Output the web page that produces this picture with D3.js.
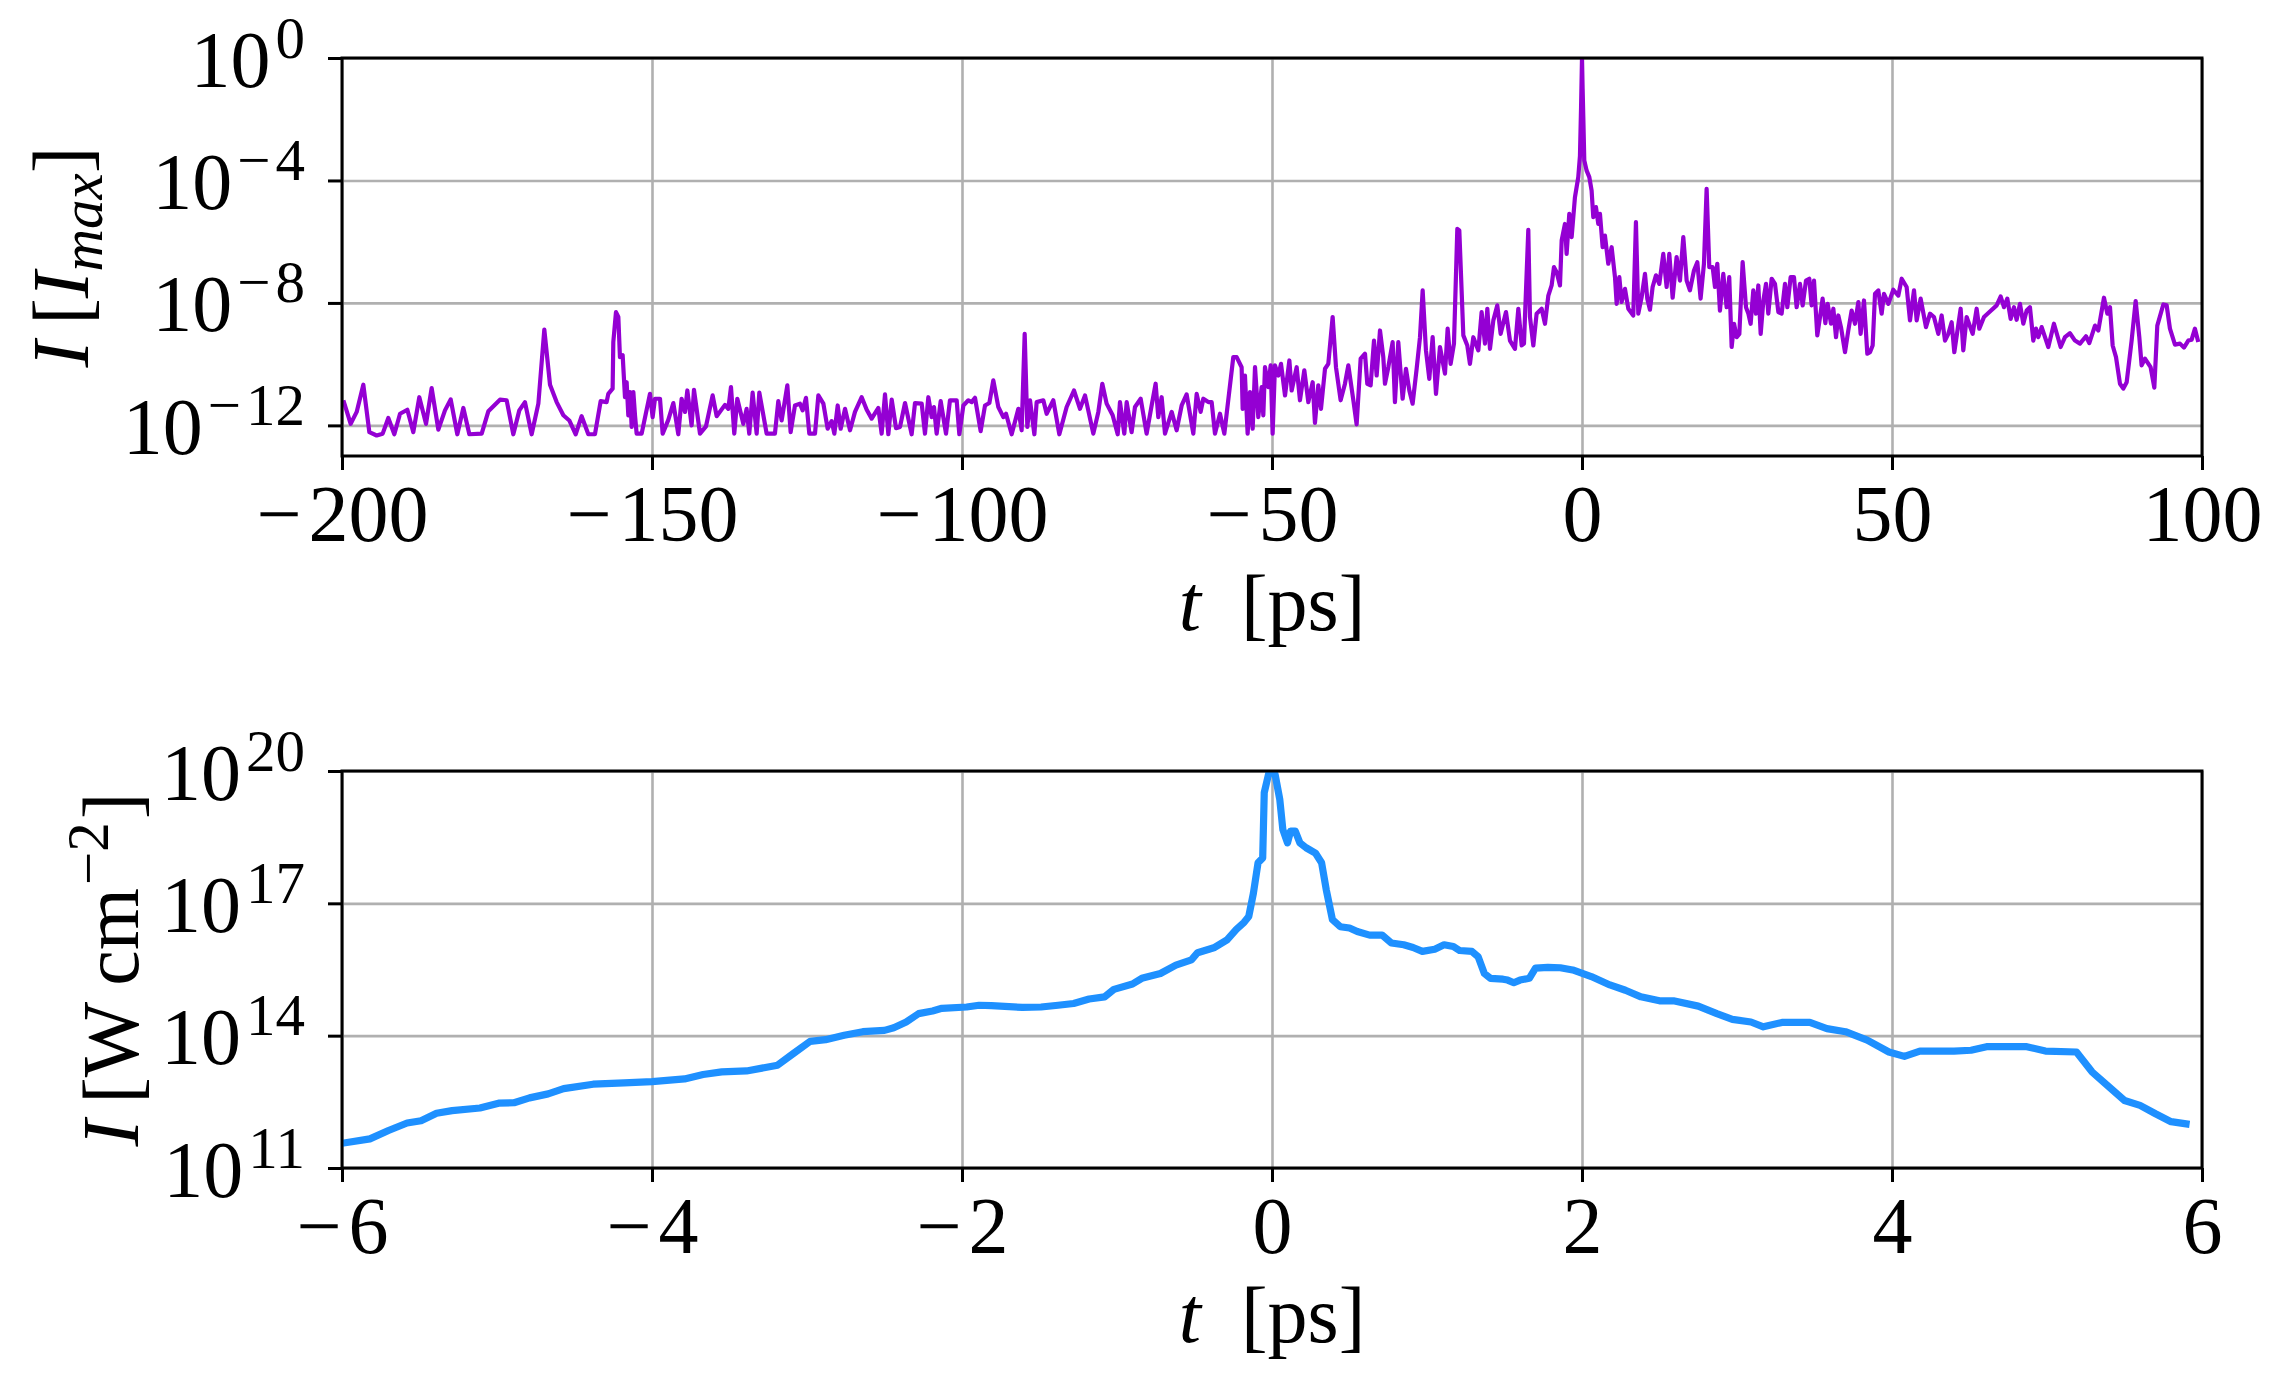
<!DOCTYPE html>
<html>
<head>
<meta charset="utf-8">
<script src="https://cdn.jsdelivr.net/npm/d3@7"></script>
<style>
  body { margin: 0; background: #fff; }
  svg { display: block; }
  text { font-family: "Liberation Serif", "DejaVu Serif", serif; fill: #000; }
</style>
</head>
<body>
<svg></svg>
<script>
const [svgWidth, svgHeight] = [2293, 1393];
const svg = d3.select('svg')
  .attr('width', svgWidth)
  .attr('height', svgHeight);

// ---- data: [t in ps, log10 of intensity] ----
const contrastTicksX = [-200, -150, -100, -50, 0, 50, 100];
const contrastTicksExp = [-12, -8, -4, 0];
const contrastTrace = [
  [-199.78,-11.18],[-198.6,-11.95],[-197.63,-11.56],[-196.56,-10.67],[-195.59,-12.22],[-194.41,-12.33],
  [-193.44,-12.27],[-192.53,-11.76],[-191.56,-12.29],[-190.64,-11.62],[-189.46,-11.49],[-188.5,-12.22],
  [-187.53,-11.08],[-186.45,-11.95],[-185.54,-10.78],[-184.46,-12.14],[-183.39,-11.51],[-182.47,-11.15],
  [-181.4,-12.29],[-180.43,-11.43],[-179.46,-12.29],[-177.47,-12.27],[-176.4,-11.54],[-174.52,-11.16],
  [-173.44,-11.18],[-172.37,-12.29],[-171.4,-11.51],[-170.49,-11.24],[-169.41,-12.29],[-168.33,-11.29],
  [-167.37,-8.87],[-166.45,-10.67],[-165.38,-11.24],[-164.3,-11.67],[-163.34,-11.84],[-162.31,-12.29],
  [-161.35,-11.7],[-160.27,-12.29],[-159.2,-12.29],[-158.28,-11.21],[-157.32,-11.24],[-157.05,-10.97],
  [-156.35,-10.8],[-156.24,-9.28],[-155.81,-8.3],[-155.43,-8.46],[-155.17,-9.77],[-154.73,-9.71],
  [-154.36,-11.08],[-154.09,-10.59],[-153.82,-11.67],[-153.55,-10.91],[-153.28,-12.05],[-153.01,-10.91],
  [-152.74,-11.67],[-152.48,-12.27],[-151.67,-12.27],[-150.33,-10.97],[-149.9,-11.73],[-149.52,-11.13],
  [-148.71,-11.13],[-148.28,-12.27],[-147.37,-11.82],[-146.56,-11.27],[-145.76,-12.29],[-145.22,-11.13],
  [-144.68,-11.56],[-144.3,-10.86],[-143.61,-12.0],[-143.23,-10.84],[-142.26,-12.27],[-141.29,-12.03],
  [-140.22,-11.02],[-139.57,-11.7],[-138.23,-11.33],[-137.69,-11.46],[-137.26,-10.75],[-136.73,-12.27],
  [-136.24,-11.13],[-135.27,-11.95],[-134.74,-11.46],[-134.31,-12.27],[-133.77,-10.93],[-133.12,-12.27],
  [-132.69,-10.93],[-131.51,-12.27],[-130.17,-12.27],[-129.63,-11.21],[-129.09,-11.84],[-128.17,-10.69],
  [-127.64,-12.22],[-126.94,-11.35],[-126.13,-11.29],[-125.7,-11.51],[-125.16,-11.1],[-124.63,-12.27],
  [-123.71,-12.27],[-123.17,-11.02],[-122.36,-11.29],[-121.67,-12.11],[-121.02,-11.86],[-120.59,-12.27],
  [-120.05,-11.35],[-119.57,-12.11],[-118.87,-11.46],[-118.06,-12.16],[-117.26,-11.56],[-116.18,-11.08],
  [-115.37,-11.49],[-114.57,-11.78],[-113.49,-11.43],[-112.96,-12.27],[-112.42,-10.99],[-111.88,-12.29],
  [-111.34,-11.16],[-110.64,-12.09],[-110.0,-12.05],[-109.19,-11.27],[-108.12,-12.29],[-107.58,-11.27],
  [-106.5,-11.29],[-105.97,-12.27],[-105.43,-11.08],[-104.89,-11.73],[-104.52,-11.4],[-104.09,-12.27],
  [-103.44,-11.21],[-102.58,-12.27],[-101.94,-11.18],[-100.86,-11.18],[-100.43,-12.29],[-99.78,-11.35],
  [-98.98,-11.18],[-98.44,-11.24],[-97.9,-11.1],[-96.99,-12.19],[-96.29,-11.35],[-95.59,-11.27],
  [-94.95,-10.53],[-94.14,-11.4],[-93.33,-11.73],[-92.9,-11.62],[-91.99,-12.29],[-90.91,-11.46],
  [-90.38,-12.16],[-89.89,-9.01],[-89.46,-12.05],[-89.03,-11.18],[-88.33,-12.29],[-87.96,-11.24],
  [-86.88,-11.18],[-86.35,-11.62],[-85.27,-11.18],[-84.3,-12.29],[-83.12,-11.4],[-81.94,-10.86],
  [-80.97,-11.46],[-80.16,-11.02],[-78.82,-12.27],[-78.01,-11.56],[-77.37,-10.64],[-76.67,-11.29],
  [-75.7,-11.67],[-74.89,-12.29],[-74.52,-11.24],[-73.82,-12.27],[-73.44,-11.24],[-72.64,-12.22],
  [-72.1,-11.4],[-71.18,-11.13],[-70.22,-12.27],[-69.41,-11.35],[-68.77,-10.64],[-68.34,-11.73],
  [-67.8,-11.08],[-67.26,-12.27],[-66.18,-11.56],[-65.38,-12.16],[-64.57,-11.35],[-63.77,-10.99],
  [-62.69,-12.27],[-62.15,-10.97],[-61.51,-11.56],[-61.08,-11.13],[-60.27,-11.24],[-59.73,-11.24],
  [-59.2,-12.27],[-58.39,-11.62],[-57.69,-12.27],[-56.24,-9.77],[-55.7,-9.77],[-54.9,-10.1],
  [-54.73,-11.46],[-54.36,-10.37],[-53.93,-12.27],[-53.55,-10.91],[-53.12,-12.11],[-52.74,-10.1],
  [-52.21,-11.73],[-51.67,-10.75],[-51.4,-11.67],[-51.13,-10.1],[-50.59,-10.75],[-50.22,-10.04],
  [-49.9,-12.27],[-49.52,-10.04],[-48.98,-10.37],[-48.55,-9.99],[-47.9,-11.02],[-47.2,-9.88],
  [-46.83,-10.86],[-46.02,-10.1],[-45.49,-11.18],[-44.79,-10.2],[-44.14,-11.24],[-43.44,-10.59],
  [-43.07,-11.92],[-42.53,-10.69],[-42.1,-11.46],[-41.45,-10.15],[-40.92,-9.99],[-40.22,-8.46],
  [-39.68,-10.1],[-38.93,-11.18],[-38.23,-10.64],[-37.69,-10.04],[-36.88,-11.18],[-36.35,-11.97],
  [-35.7,-9.82],[-35.0,-9.66],[-34.63,-10.64],[-34.09,-10.69],[-33.55,-9.23],[-33.12,-10.37],
  [-32.58,-8.9],[-32.05,-9.77],[-31.78,-10.64],[-31.24,-10.1],[-30.54,-9.28],[-30.17,-11.24],
  [-29.63,-9.28],[-28.93,-11.13],[-28.39,-10.15],[-27.85,-10.86],[-27.32,-11.29],[-26.67,-10.15],
  [-26.13,-9.12],[-25.7,-7.59],[-25.17,-9.55],[-24.63,-10.48],[-24.09,-9.12],[-23.55,-10.97],
  [-22.91,-9.44],[-22.1,-10.31],[-21.67,-8.84],[-21.19,-9.99],[-20.65,-9.33],[-20.11,-5.58],
  [-19.79,-5.63],[-19.14,-9.06],[-18.5,-9.39],[-18.07,-9.99],[-17.53,-9.12],[-16.72,-9.55],
  [-16.19,-8.3],[-15.65,-9.33],[-15.27,-8.19],[-14.84,-9.5],[-14.3,-8.57],[-13.66,-8.08],
  [-13.12,-9.01],[-12.26,-8.3],[-11.62,-9.23],[-10.81,-9.5],[-10.27,-8.19],[-9.73,-9.39],
  [-9.36,-9.33],[-8.66,-5.61],[-8.39,-8.46],[-7.85,-9.39],[-7.32,-8.35],[-6.51,-8.19],
  [-5.97,-8.68],[-5.43,-7.76],[-4.9,-7.43],[-4.52,-6.83],[-4.09,-7.0],[-3.55,-7.43],
  [-3.28,-5.96],[-2.75,-5.42],[-2.48,-6.4],[-2.05,-5.09],[-1.67,-5.85],[-1.14,-4.55],
  [-0.6,-3.89],[-0.33,-3.2],[-0.15,-1.6],[0.0,0.0],[0.1,-1.0],[0.21,-1.93],
  [0.37,-3.35],[0.75,-3.68],[1.18,-3.89],[1.55,-4.33],[1.82,-5.2],[2.25,-4.87],
  [2.63,-5.42],[2.9,-5.09],[3.33,-6.18],[3.7,-5.8],[4.24,-6.72],[4.78,-6.18],
  [5.32,-7.16],[5.59,-8.03],[6.02,-7.16],[6.39,-7.97],[6.93,-7.54],[7.47,-8.19],
  [8.27,-8.41],[8.7,-5.36],[9.08,-8.35],[9.62,-7.81],[10.16,-7.05],[10.53,-7.86],
  [10.96,-8.22],[11.39,-7.48],[11.93,-7.1],[12.47,-7.38],[13.11,-6.4],[13.65,-7.48],
  [14.08,-6.4],[14.62,-7.83],[15.26,-6.5],[15.8,-7.27],[16.34,-5.85],[16.88,-7.27],
  [17.41,-7.59],[18.06,-6.94],[18.6,-6.67],[19.13,-7.86],[19.67,-6.72],[20.1,-4.27],
  [20.53,-6.83],[21.07,-6.83],[21.45,-7.48],[21.82,-6.72],[22.25,-8.25],[22.79,-7.05],
  [23.33,-8.14],[23.75,-7.16],[24.14,-9.44],[24.52,-8.68],[24.95,-9.12],[25.38,-9.01],
  [25.91,-6.67],[26.45,-8.14],[26.83,-8.35],[27.2,-8.68],[27.63,-7.59],[28.06,-8.35],
  [28.44,-7.43],[28.82,-9.01],[29.25,-7.92],[29.68,-7.38],[30.05,-8.35],[30.59,-7.21],
  [31.13,-7.38],[31.67,-8.3],[32.2,-8.35],[32.74,-7.38],[33.12,-8.14],[33.65,-7.16],
  [34.19,-7.16],[34.62,-8.14],[35.16,-7.38],[35.59,-8.08],[36.13,-7.27],[36.66,-7.21],
  [37.04,-8.08],[37.42,-7.27],[37.95,-9.06],[38.39,-8.46],[38.81,-7.86],[39.25,-8.66],
  [39.62,-8.03],[40.16,-8.68],[40.54,-8.19],[40.97,-9.12],[41.34,-8.41],[41.77,-8.79],
  [42.42,-9.61],[42.95,-8.9],[43.49,-8.25],[44.03,-8.68],[44.57,-7.97],[44.94,-9.01],
  [45.48,-7.92],[46.02,-9.66],[46.45,-9.61],[46.88,-9.39],[47.26,-7.7],[47.79,-7.59],
  [48.33,-8.35],[48.71,-7.7],[49.41,-8.03],[50.21,-7.57],[51.02,-7.76],[51.56,-7.21],
  [52.36,-7.48],[52.9,-8.57],[53.55,-7.59],[53.98,-8.57],[54.62,-7.86],[55.48,-8.79],
  [56.13,-8.35],[56.77,-8.46],[57.47,-9.01],[58.01,-8.41],[58.55,-9.23],[59.08,-9.01],
  [59.62,-8.63],[60.05,-9.61],[61.07,-8.19],[61.5,-9.55],[62.04,-8.46],[63.01,-9.01],
  [63.65,-8.19],[64.08,-8.84],[64.84,-8.46],[65.8,-8.28],[66.88,-8.08],[67.52,-7.79],
  [68.06,-8.14],[68.6,-7.86],[69.14,-8.52],[69.67,-8.14],[70.1,-8.55],[70.64,-8.03],
  [71.18,-8.68],[71.72,-8.25],[72.25,-8.14],[72.79,-9.23],[73.22,-8.84],[73.6,-9.12],
  [74.14,-8.79],[75.21,-9.44],[76.12,-8.68],[77.2,-9.44],[77.9,-9.12],[78.7,-8.99],
  [79.51,-9.23],[80.32,-9.33],[81.29,-9.09],[81.82,-9.31],[82.74,-8.74],[83.28,-8.9],
  [84.19,-7.83],[84.73,-8.35],[85.16,-8.14],[85.59,-9.39],[86.13,-9.77],[86.77,-10.64],
  [87.31,-10.8],[87.85,-10.59],[88.65,-9.23],[89.3,-7.94],[89.89,-9.12],[90.26,-10.04],
  [90.8,-9.82],[91.71,-10.1],[92.31,-10.77],[92.79,-8.74],[93.76,-8.05],[94.3,-8.08],
  [94.83,-8.84],[95.64,-9.36],[96.45,-9.33],[97.09,-9.46],[97.79,-9.23],[98.33,-9.2],
  [98.86,-8.84],[99.4,-9.28]
];

const peakTicksX = [-6, -4, -2, 0, 2, 4, 6];
const peakTicksExp = [11, 14, 17, 20];
const peakTrace = [
  [-6.0,11.56],[-5.82,11.66],[-5.7,11.85],[-5.58,12.02],[-5.49,12.07],[-5.39,12.24],[-5.29,12.3],
  [-5.11,12.36],[-4.99,12.47],[-4.89,12.48],[-4.79,12.59],[-4.67,12.68],[-4.57,12.8],[-4.38,12.9],
  [-4.18,12.93],[-4.0,12.96],[-3.79,13.02],[-3.67,13.12],[-3.55,13.18],[-3.39,13.2],[-3.19,13.33],
  [-3.09,13.59],[-2.98,13.87],[-2.88,13.91],[-2.76,14.01],[-2.64,14.09],[-2.5,14.12],[-2.44,14.18],
  [-2.36,14.31],[-2.28,14.5],[-2.19,14.56],[-2.13,14.62],[-1.97,14.65],[-1.89,14.69],[-1.81,14.68],
  [-1.61,14.64],[-1.49,14.65],[-1.38,14.69],[-1.28,14.73],[-1.18,14.83],[-1.08,14.88],[-1.02,15.05],
  [-0.9,15.17],[-0.84,15.3],[-0.72,15.41],[-0.62,15.6],[-0.52,15.72],[-0.48,15.88],[-0.37,16.0],
  [-0.29,16.17],[-0.23,16.41],[-0.18,16.57],[-0.15,16.7],[-0.12,17.23],[-0.09,17.92],[-0.06,18.03],
  [-0.05,19.51],[-0.02,19.96],[0.01,19.98],[0.02,19.92],[0.05,19.36],[0.07,18.67],[0.1,18.37],
  [0.12,18.64],[0.15,18.64],[0.18,18.37],[0.22,18.26],[0.28,18.14],[0.32,17.92],[0.35,17.31],
  [0.39,16.63],[0.44,16.47],[0.5,16.44],[0.55,16.36],[0.63,16.28],[0.71,16.28],[0.77,16.1],
  [0.85,16.06],[0.91,16.0],[0.97,15.91],[1.05,15.96],[1.11,16.06],[1.17,16.02],[1.21,15.93],
  [1.29,15.91],[1.33,15.79],[1.37,15.41],[1.41,15.3],[1.49,15.28],[1.52,15.26],[1.56,15.2],
  [1.6,15.26],[1.66,15.3],[1.7,15.53],[1.78,15.55],[1.86,15.54],[1.94,15.49],[2.06,15.34],
  [2.18,15.15],[2.28,15.03],[2.38,14.88],[2.5,14.79],[2.59,14.79],[2.75,14.67],[2.87,14.5],
  [2.97,14.37],[3.09,14.31],[3.17,14.2],[3.29,14.3],[3.47,14.3],[3.58,14.16],[3.7,14.09],
  [3.84,13.9],[3.98,13.63],[4.08,13.53],[4.18,13.65],[4.4,13.65],[4.51,13.67],[4.61,13.75],
  [4.87,13.75],[4.99,13.65],[5.19,13.63],[5.29,13.18],[5.39,12.87],[5.5,12.53],[5.6,12.42],
  [5.7,12.23],[5.8,12.05],[5.92,11.99]
];

// ---- layout ----
const [left, right] = [342, 2202];
const fontSize = 80;
const supSize = 59;

const panels = [
  {
    top: 58, bottom: 456,
    xDomain: [-200, 100], yDomain: [1e-13, 1],
    xTicks: contrastTicksX, yTicksExp: contrastTicksExp,
    data: contrastTrace, color: '#9400D3', width: 4.2,
    yLabelX: 88,
    yLabel: t => {
      t.append('tspan').attr('font-style', 'italic').text('I');
      t.append('tspan').text('\u2009[');
      t.append('tspan').attr('font-style', 'italic').text('I');
      t.append('tspan').attr('font-style', 'italic').attr('font-size', supSize).attr('dy', 14).text('max');
      t.append('tspan').attr('dy', -14).text(']');
    }
  },
  {
    top: 771, bottom: 1168,
    xDomain: [-6, 6], yDomain: [1e11, 1e20],
    xTicks: peakTicksX, yTicksExp: peakTicksExp,
    data: peakTrace, color: '#1E90FF', width: 7.2,
    yLabelX: 138,
    yLabel: t => {
      t.append('tspan').attr('font-style', 'italic').text('I');
      t.append('tspan').text('\u2009[W\u2009cm');
      t.append('tspan').attr('font-size', supSize).attr('dy', -30).attr('dx', 3).text('\u22122');
      t.append('tspan').attr('dy', 30).attr('dx', 3).text(']');
    }
  }
];

const minus = v => (v < 0 ? '\u2212\u200A' : '') + Math.abs(v);

panels.forEach((p, i) => {
  const x = d3.scaleLinear().domain(p.xDomain).range([left, right]);
  const y = d3.scaleLog().domain(p.yDomain).range([p.bottom, p.top]);
  const g = svg.append('g');

  g.append('clipPath').attr('id', `clip${i}`)
    .append('rect')
    .attr('x', left).attr('y', p.top)
    .attr('width', right - left).attr('height', p.bottom - p.top);

  // grid
  const grid = g.append('g');
  grid.append('g')
    .attr('transform', `translate(0, ${p.bottom})`)
    .call(d3.axisBottom(x).tickValues(p.xTicks).tickSize(-(p.bottom - p.top)).tickFormat(''));
  grid.append('g')
    .attr('transform', `translate(${left}, 0)`)
    .call(d3.axisLeft(y).tickValues(p.yTicksExp.map(e => 10 ** e)).tickSize(-(right - left)).tickFormat(''));
  grid.selectAll('.domain').remove();
  grid.selectAll('line').attr('stroke', '#b0b0b0').attr('stroke-width', 2.6);

  // trace
  const line = d3.line()
    .x(d => x(d[0]))
    .y(d => y(10 ** d[1]));
  g.append('path')
    .datum(p.data)
    .attr('clip-path', `url(#clip${i})`)
    .attr('fill', 'none')
    .attr('stroke', p.color)
    .attr('stroke-width', p.width)
    .attr('stroke-linejoin', 'round')
    .attr('d', line);

  // frame
  g.append('rect')
    .attr('x', left).attr('y', p.top)
    .attr('width', right - left).attr('height', p.bottom - p.top)
    .attr('fill', 'none').attr('stroke', '#000').attr('stroke-width', 3);

  // x axis
  const xAxis = g.append('g')
    .attr('transform', `translate(0, ${p.bottom})`)
    .call(d3.axisBottom(x).tickValues(p.xTicks).tickSize(14).tickFormat(minus));
  xAxis.select('.domain').remove();
  xAxis.selectAll('line').attr('stroke', '#000').attr('stroke-width', 3);
  xAxis.selectAll('text')
    .attr('y', 85).attr('dy', 0)
    .attr('font-size', fontSize)
    .attr('font-family', '"Liberation Serif", serif');

  // y axis
  const yAxis = g.append('g')
    .attr('transform', `translate(${left}, 0)`)
    .call(d3.axisLeft(y).tickValues(p.yTicksExp.map(e => 10 ** e)).tickSize(14).tickFormat(''));
  yAxis.select('.domain').remove();
  yAxis.selectAll('line').attr('stroke', '#000').attr('stroke-width', 3);
  yAxis.selectAll('.tick').each(function (d) {
    const e = Math.round(Math.log10(d));
    const t = d3.select(this).select('text')
      .attr('x', -37).attr('dy', 0).attr('y', 28)
      .attr('text-anchor', 'end')
      .attr('font-size', fontSize)
      .attr('font-family', '"Liberation Serif", serif');
    t.append('tspan').text('10');
    t.append('tspan').attr('font-size', supSize).attr('dy', -29).attr('dx', 5).text(minus(e));
  });

  // labels
  const xl = g.append('text')
    .attr('x', (left + right) / 2).attr('y', p.bottom + 174)
    .attr('text-anchor', 'middle')
    .attr('font-size', fontSize);
  xl.append('tspan').attr('font-style', 'italic').text('t');
  xl.append('tspan').text('\u2002[ps]');

  const yl = g.append('text')
    .attr('transform', `translate(${p.yLabelX}, ${(p.top + p.bottom) / 2}) rotate(-90)`)
    .attr('text-anchor', 'middle')
    .attr('font-size', fontSize);
  p.yLabel(yl);
});
</script>
</body>
</html>
